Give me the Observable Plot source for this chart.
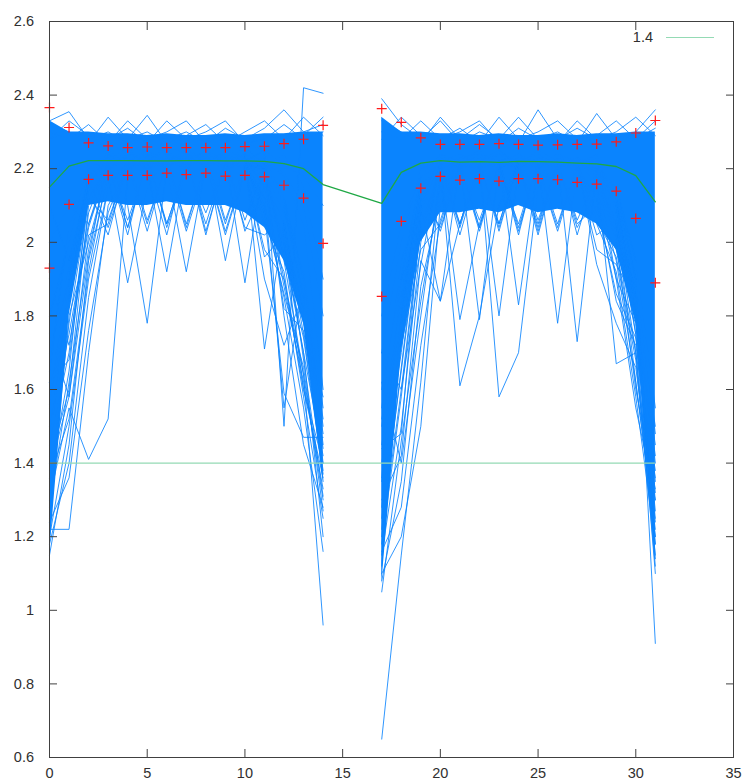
<!DOCTYPE html>
<html>
<head>
<meta charset="utf-8">
<script src="https://cdn.jsdelivr.net/npm/d3@7"></script>
<script src="https://cdn.jsdelivr.net/npm/@observablehq/plot@0.6"></script>
<style>
  html, body { margin: 0; padding: 0; background: #fff; }
  #wrap { position: relative; width: 742px; height: 780px; }
  #key { position: absolute; left: 600px; top: 28px; width: 120px; height: 18px;
         font-family: "Liberation Sans", Arial, sans-serif; font-size: 14.5px; color: #303030; }
  #key span { position: absolute; right: 67px; top: 0; line-height: 18px; }
  #key i { position: absolute; left: 66px; top: 9px; width: 48px; height: 0; border-top: 1.4px solid #94dab4; }
</style>
</head>
<body>
<div id="wrap"><div id="key"><span>1.4</span><i></i></div></div>
<script>
// Two measurement windows: x = 0..14 and x = 17..31
const xsA = [0, 1, 2, 3, 4, 5, 6, 7, 8, 9, 10, 11, 12, 13, 14];
const xsB = [17, 18, 19, 20, 21, 22, 23, 24, 25, 26, 27, 28, 29, 30, 31];

// Mean and mean ± sd per step
const meanA  = [2.150, 2.207, 2.222, 2.222, 2.222, 2.221, 2.221, 2.222, 2.222, 2.221, 2.221, 2.220, 2.214, 2.200, 2.157];
const meanB  = [2.106, 2.190, 2.215, 2.222, 2.218, 2.219, 2.217, 2.220, 2.219, 2.218, 2.215, 2.213, 2.206, 2.181, 2.110];
const upperA = [2.366, 2.312, 2.270, 2.262, 2.257, 2.259, 2.257, 2.257, 2.257, 2.257, 2.260, 2.261, 2.268, 2.280, 2.318];
const lowerA = [1.930, 2.103, 2.171, 2.182, 2.182, 2.182, 2.188, 2.184, 2.188, 2.180, 2.182, 2.178, 2.155, 2.120, 1.997];
const upperB = [2.363, 2.326, 2.284, 2.266, 2.266, 2.266, 2.268, 2.266, 2.264, 2.265, 2.266, 2.267, 2.273, 2.297, 2.331];
const lowerB = [1.853, 2.057, 2.147, 2.179, 2.169, 2.173, 2.166, 2.173, 2.173, 2.170, 2.163, 2.158, 2.139, 2.065, 1.890];

// Dense core of the individual traces (upper and lower edge per step)
const coreTopA = [2.330, 2.300, 2.300, 2.295, 2.295, 2.290, 2.295, 2.290, 2.290, 2.295, 2.290, 2.295, 2.295, 2.300, 2.300];
const coreLowA = [1.150, 1.800, 2.100, 2.110, 2.100, 2.100, 2.110, 2.100, 2.100, 2.100, 2.080, 2.040, 1.950, 1.780, 1.350];
const coreTopB = [2.340, 2.300, 2.300, 2.295, 2.295, 2.290, 2.295, 2.290, 2.290, 2.295, 2.290, 2.295, 2.295, 2.300, 2.300];
const coreLowB = [1.070, 1.700, 2.000, 2.080, 2.080, 2.090, 2.080, 2.100, 2.080, 2.090, 2.080, 2.050, 1.980, 1.780, 1.130];

// Individual traces that leave the dense core, first window
const tracesA = [
  [1.30, 1.55, 1.41, 1.52, 2.18, 2.24, 2.22, 2.25, 2.23, 2.24, 2.22, 2.25, 2.21, 2.18, 2.10],
  [1.22, 1.22, 1.70, 2.10, 2.20, 2.22, 2.26, 2.24, 2.21, 2.25, 2.23, 2.20, 2.24, 2.15, 1.90],
  [1.15, 1.45, 1.95, 2.18, 1.89, 2.15, 2.23, 2.20, 2.24, 2.22, 2.26, 2.21, 2.19, 2.10, 1.80],
  [1.40, 1.60, 2.10, 2.22, 2.10, 1.78, 2.20, 2.24, 2.22, 2.20, 2.24, 2.22, 2.18, 2.05, 1.60],
  [1.50, 1.75, 2.05, 2.22, 2.26, 2.20, 1.92, 2.22, 2.25, 2.20, 2.21, 2.23, 2.12, 1.90, 1.45],
  [1.35, 1.65, 2.15, 2.25, 2.21, 2.24, 2.20, 1.92, 2.21, 2.23, 2.20, 2.18, 2.05, 1.75, 1.38],
  [1.25, 1.80, 2.00, 2.20, 2.24, 2.22, 2.25, 2.21, 2.08, 2.22, 2.24, 2.21, 1.95, 1.64, 1.30],
  [1.60, 1.85, 2.18, 2.24, 2.20, 2.25, 2.21, 2.23, 2.24, 1.95, 2.21, 2.20, 2.00, 1.70, 1.20],
  [1.45, 1.70, 2.12, 2.21, 2.25, 2.21, 2.24, 2.22, 2.21, 2.23, 1.89, 2.22, 2.10, 1.85, 1.40],
  [1.70, 1.90, 2.20, 2.23, 2.22, 2.24, 2.20, 2.25, 2.22, 2.21, 2.24, 1.71, 2.05, 1.80, 1.35],
  [1.55, 1.95, 2.16, 2.22, 2.23, 2.20, 2.23, 2.21, 2.25, 2.22, 2.20, 2.12, 1.55, 1.90, 1.50],
  [1.80, 2.00, 2.22, 2.20, 2.24, 2.23, 2.21, 2.24, 2.20, 2.24, 2.22, 2.08, 1.59, 1.47, 1.47],
  [1.20, 1.50, 1.90, 2.15, 2.22, 2.25, 2.22, 2.20, 2.23, 2.21, 2.23, 2.15, 1.90, 1.64, 0.96],
  [1.38, 1.58, 2.02, 2.05, 2.22, 2.20, 2.24, 2.21, 2.22, 2.24, 2.20, 2.10, 1.85, 1.55, 1.16],
  [1.65, 2.05, 2.15, 2.24, 2.21, 2.22, 2.21, 2.23, 2.22, 2.20, 2.23, 2.20, 1.80, 1.45, 1.28],
  [2.00, 2.10, 2.05, 2.20, 2.22, 2.20, 2.22, 2.24, 2.21, 2.23, 2.22, 2.18, 2.00, 1.60, 1.36],
  [1.18, 1.40, 1.85, 2.15, 2.20, 2.22, 2.05, 2.21, 2.23, 2.20, 2.22, 2.19, 2.08, 1.92, 1.55],
  [1.28, 1.62, 1.98, 2.21, 2.04, 2.22, 2.20, 2.23, 2.02, 2.22, 2.20, 2.21, 1.98, 1.70, 1.42],
  [1.48, 1.88, 2.14, 2.02, 2.22, 2.20, 2.23, 2.05, 2.21, 2.24, 2.03, 2.15, 1.88, 1.62, 1.33],
  [1.62, 1.68, 2.08, 2.22, 2.21, 2.03, 2.22, 2.20, 2.24, 2.06, 2.21, 1.96, 2.02, 1.82, 1.48],
  [1.33, 1.78, 2.12, 2.20, 2.06, 2.21, 2.24, 2.04, 2.22, 2.21, 2.22, 2.05, 1.92, 1.58, 1.25],
  [1.75, 1.58, 1.96, 2.23, 2.22, 2.20, 2.02, 2.23, 2.21, 2.03, 2.20, 2.18, 1.82, 1.76, 1.44],
  [1.42, 1.92, 2.17, 2.04, 2.20, 2.23, 2.21, 2.22, 2.05, 2.22, 2.04, 2.02, 2.06, 1.68, 1.31],
  [1.90, 1.72, 2.04, 2.21, 2.02, 2.24, 2.05, 2.21, 2.22, 2.20, 2.21, 1.90, 1.72, 1.86, 1.52],
  [1.24, 1.36, 1.76, 2.08, 2.22, 2.05, 2.22, 2.03, 2.20, 2.23, 2.06, 2.20, 1.96, 1.74, 1.37],
  [1.56, 1.84, 2.18, 2.22, 2.04, 2.22, 2.20, 2.24, 2.03, 2.21, 2.22, 2.08, 1.86, 1.66, 1.27],
  [2.10, 1.95, 2.12, 2.06, 2.21, 2.24, 2.04, 2.20, 2.23, 2.05, 2.22, 2.12, 2.00, 1.78, 1.58],
  [1.36, 1.52, 1.92, 2.20, 2.23, 2.06, 2.21, 2.22, 2.21, 2.02, 2.20, 1.98, 1.90, 1.60, 1.40],
  [2.33, 2.355, 2.28, 2.30, 2.27, 2.29, 2.28, 2.30, 2.27, 2.29, 2.28, 2.31, 2.36, 2.30, 2.32],
  [2.30, 2.28, 2.32, 2.27, 2.33, 2.28, 2.30, 2.33, 2.27, 2.31, 2.28, 2.29, 2.28, 2.34, 2.29],
  [2.32, 2.30, 2.27, 2.34, 2.28, 2.345, 2.27, 2.29, 2.32, 2.27, 2.30, 2.33, 2.28, 2.29, 2.34],
  [2.28, 2.33, 2.29, 2.28, 2.31, 2.27, 2.33, 2.28, 2.30, 2.33, 2.27, 2.28, 2.32, 2.28, 2.30],
  [2.28, 2.30, 2.27, 2.29, 2.28, 2.30, 2.27, 2.29, 2.28, 2.29, 2.27, 2.25, 1.50, 2.42, 2.405]
];

// Individual traces that leave the dense core, second window
const tracesB = [
  [0.65, 1.15, 1.62, 2.18, 2.22, 2.25, 2.21, 2.24, 2.22, 2.20, 2.23, 2.21, 2.15, 1.95, 1.55],
  [1.10, 1.20, 1.50, 2.10, 2.20, 2.24, 2.22, 2.21, 2.25, 2.22, 2.20, 2.24, 2.10, 1.85, 1.35],
  [1.30, 1.42, 1.95, 1.84, 2.22, 2.20, 2.24, 2.22, 2.20, 2.23, 2.21, 2.18, 2.05, 1.70, 1.20],
  [1.20, 1.60, 2.05, 2.20, 1.61, 1.80, 2.10, 2.22, 2.24, 2.21, 2.22, 2.20, 2.12, 1.80, 1.30],
  [1.40, 1.75, 2.10, 2.24, 2.20, 2.22, 1.58, 1.70, 2.15, 2.22, 2.20, 2.23, 2.08, 1.75, 1.10],
  [1.50, 1.85, 2.15, 2.20, 1.79, 2.05, 2.20, 2.23, 2.21, 2.24, 2.22, 2.19, 2.15, 1.90, 0.91],
  [1.25, 1.65, 2.08, 2.22, 2.24, 2.21, 1.80, 2.20, 2.23, 2.20, 2.21, 2.24, 2.10, 1.85, 1.40],
  [1.60, 1.90, 2.18, 2.21, 2.23, 2.24, 2.22, 1.83, 2.21, 2.24, 2.20, 2.22, 2.00, 1.60, 1.33],
  [1.35, 1.70, 2.12, 2.23, 2.20, 2.22, 2.25, 2.21, 2.22, 1.78, 2.20, 2.22, 2.05, 1.75, 1.25],
  [1.70, 2.00, 2.20, 2.22, 2.24, 2.20, 2.22, 2.24, 2.21, 2.22, 1.73, 2.20, 2.10, 1.80, 1.45],
  [1.45, 1.80, 2.16, 2.20, 2.22, 2.23, 2.21, 2.22, 2.24, 2.20, 2.22, 2.18, 1.67, 1.70, 1.38],
  [1.15, 1.50, 2.00, 2.22, 2.21, 2.24, 2.20, 2.23, 2.22, 2.21, 2.23, 2.15, 1.95, 1.62, 1.22],
  [1.55, 1.95, 2.10, 1.84, 2.05, 2.22, 2.24, 2.20, 2.23, 2.22, 2.21, 2.20, 2.12, 1.90, 1.48],
  [1.80, 2.05, 2.18, 2.24, 2.22, 1.79, 2.21, 2.22, 2.21, 2.24, 2.22, 2.20, 1.90, 1.55, 1.30],
  [1.08, 1.35, 1.88, 2.12, 2.21, 2.04, 2.22, 2.20, 2.05, 2.22, 2.21, 2.18, 2.04, 1.84, 1.18],
  [1.18, 1.58, 2.04, 2.20, 2.05, 2.22, 2.03, 2.22, 2.20, 2.04, 2.22, 2.06, 1.96, 1.68, 1.15],
  [1.28, 1.72, 1.98, 2.05, 2.22, 2.20, 2.22, 2.02, 2.23, 2.21, 2.04, 2.14, 1.90, 1.78, 1.27],
  [1.44, 1.48, 2.08, 2.22, 2.02, 2.21, 2.05, 2.22, 2.03, 2.22, 2.20, 2.02, 2.06, 1.62, 1.20],
  [1.12, 1.82, 2.13, 2.04, 2.20, 2.06, 2.21, 2.23, 2.21, 2.05, 2.21, 2.12, 1.84, 1.72, 1.36],
  [1.62, 1.40, 1.80, 2.18, 2.23, 2.22, 2.04, 2.21, 2.02, 2.22, 2.06, 2.18, 2.00, 1.88, 1.14],
  [1.22, 1.66, 2.10, 2.21, 2.04, 2.22, 2.20, 2.05, 2.22, 2.20, 2.22, 1.94, 1.78, 1.66, 1.24],
  [1.36, 1.90, 2.02, 2.22, 2.21, 2.03, 2.22, 2.21, 2.04, 2.23, 2.02, 2.20, 2.02, 1.80, 1.42],
  [1.16, 1.28, 1.72, 2.06, 2.22, 2.21, 2.05, 2.22, 2.20, 2.03, 2.21, 2.05, 1.92, 1.58, 1.18],
  [1.52, 1.78, 2.16, 2.03, 2.21, 2.20, 2.22, 2.04, 2.21, 2.22, 2.05, 2.10, 1.86, 1.74, 1.32],
  [1.70, 1.60, 1.94, 2.22, 2.05, 2.22, 2.21, 2.22, 2.06, 2.21, 2.20, 1.98, 1.94, 1.84, 1.50],
  [1.05, 1.46, 1.84, 2.15, 2.22, 2.04, 2.22, 2.03, 2.22, 2.20, 2.22, 2.08, 1.98, 1.70, 1.12],
  [2.39, 2.32, 2.28, 2.33, 2.27, 2.30, 2.28, 2.34, 2.28, 2.30, 2.27, 2.35, 2.28, 2.30, 2.36],
  [2.30, 2.28, 2.33, 2.28, 2.31, 2.27, 2.34, 2.28, 2.30, 2.33, 2.28, 2.29, 2.33, 2.28, 2.31],
  [2.33, 2.30, 2.27, 2.34, 2.28, 2.32, 2.28, 2.27, 2.36, 2.28, 2.31, 2.28, 2.30, 2.34, 2.29],
  [2.28, 2.34, 2.29, 2.28, 2.30, 2.33, 2.27, 2.31, 2.28, 2.27, 2.33, 2.28, 2.29, 2.28, 2.33]
];

const threshold = 1.4;
const xTicks = [0, 5, 10, 15, 20, 25, 30, 35];
const yTicks = [0.6, 0.8, 1, 1.2, 1.4, 1.6, 1.8, 2, 2.2, 2.4, 2.6];

// Tables for the marks
const core = [
  ...xsA.map((x, i) => ({win: "A", x, lo: coreLowA[i], hi: coreTopA[i]})),
  ...xsB.map((x, i) => ({win: "B", x, lo: coreLowB[i], hi: coreTopB[i]}))
];
const traces = [
  ...tracesA.flatMap((t, k) => t.map((y, i) => ({id: "A" + k, x: xsA[i], y}))),
  ...tracesB.flatMap((t, k) => t.map((y, i) => ({id: "B" + k, x: xsB[i], y})))
];
const meanRows = [
  ...xsA.map((x, i) => ({x, y: meanA[i]})),
  ...xsB.map((x, i) => ({x, y: meanB[i]}))
];
const sdRows = [
  ...xsA.map((x, i) => ({x, y: upperA[i]})),
  ...xsA.map((x, i) => ({x, y: lowerA[i]})),
  ...xsB.map((x, i) => ({x, y: upperB[i]})),
  ...xsB.map((x, i) => ({x, y: lowerB[i]}))
];
const thresholdSpan = [{x1: d3.min(xsA), x2: d3.max(xsB), y: threshold}];

// gnuplot-style thin "+" point
const plusSymbol = {
  draw(ctx, size) {
    const h = Math.sqrt(size / Math.PI);
    ctx.moveTo(-h, 0); ctx.lineTo(h, 0);
    ctx.moveTo(0, -h); ctx.lineTo(0, h);
  }
};

const blue = "#0a84fe";
const fontFamily = '"Liberation Sans", Arial, sans-serif';

const chart = Plot.plot({
  width: 742,
  height: 780,
  marginLeft: 49,
  marginRight: 9,
  marginTop: 21,
  marginBottom: 23,
  x: {domain: [0, 35], label: null},
  y: {domain: [0.6, 2.6], label: null},
  style: {fontFamily, fontSize: "14.5px", color: "#303030", background: "white"},
  marks: [
    Plot.areaY(core, {x: "x", y1: "lo", y2: "hi", z: "win", fill: blue, curve: "linear"}),
    Plot.line(traces, {x: "x", y: "y", z: "id", stroke: blue, strokeWidth: 1, strokeOpacity: 0.85, curve: "linear"}),
    Plot.line(meanRows, {x: "x", y: "y", stroke: "#1fa845", strokeWidth: 1.3}),
    Plot.dot(sdRows, {x: "x", y: "y", symbol: plusSymbol, r: 5, fill: "none", stroke: "#ff1a1a", strokeWidth: 1.2}),
    Plot.ruleY(thresholdSpan, {x1: "x1", x2: "x2", y: "y", stroke: "#94dab4", strokeWidth: 1.4}),
    Plot.frame({stroke: "#404040", strokeWidth: 1}),
    Plot.axisX(xTicks, {anchor: "bottom", tickSize: -8, tickPadding: 18, stroke: "#404040", tickFormat: d => String(d), label: null}),
    Plot.axisX(xTicks, {anchor: "top", tickSize: -8, stroke: "#404040", tickFormat: () => "", label: null}),
    Plot.axisY(yTicks, {anchor: "left", tickSize: -8, tickPadding: 23.5, stroke: "#404040", tickFormat: d => String(d), label: null}),
    Plot.axisY(yTicks, {anchor: "right", tickSize: -8, stroke: "#404040", tickFormat: () => "", label: null})
  ]
});

document.getElementById("wrap").prepend(chart);
chart.style.position = "absolute";
chart.style.left = "0";
chart.style.top = "0";
</script>
</body>
</html>
